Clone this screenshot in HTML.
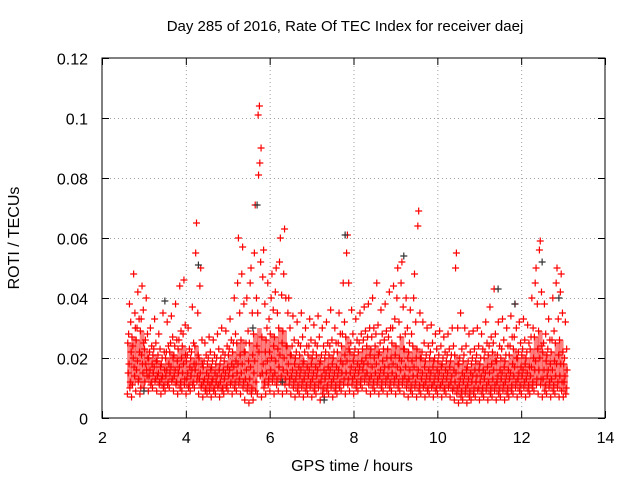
<!DOCTYPE html>
<html>
<head>
<meta charset="utf-8">
<style>
html,body{margin:0;padding:0;background:#fff;}
svg{display:block;font-family:"Liberation Sans","DejaVu Sans",sans-serif;}
</style>
</head>
<body>
<svg id="chart" width="640" height="480" viewBox="0 0 640 480">
  <rect x="0" y="0" width="640" height="480" fill="#fff"/>
  <g id="grid"></g>
  <g id="bands"></g>
  <g id="points"></g>
  <rect x="102" y="58" width="503" height="360" fill="none" stroke="#000" stroke-width="1"/>
  <g id="ticks"></g>
  <text x="345" y="31" font-size="15" text-anchor="middle">Day 285 of 2016, Rate Of TEC Index for receiver daej</text>
  <text x="352" y="471" font-size="16" text-anchor="middle">GPS time / hours</text>
  <text transform="translate(19,238) rotate(-90)" font-size="16" text-anchor="middle">ROTI / TECUs</text>
</svg>
<script>
const xTicks = [2,4,6,8,10,12,14];
const yTicks = [0,0.02,0.04,0.06,0.08,0.1,0.12];
const yTickLabels = ["0","0.02","0.04","0.06","0.08","0.1","0.12"];
const binTimes = [2.65,2.75,2.85,2.95,3.05,3.15,3.25,3.35,3.45,3.55,3.65,3.75,3.85,3.95,4.05,4.15,4.25,4.35,4.45,4.55,4.65,4.75,4.85,4.95,5.05,5.15,5.25,5.35,5.45,5.55,5.65,5.75,5.85,5.95,6.05,6.15,6.25,6.35,6.45,6.55,6.65,6.75,6.85,6.95,7.05,7.15,7.25,7.35,7.45,7.55,7.65,7.75,7.85,7.95,8.05,8.15,8.25,8.35,8.45,8.55,8.65,8.75,8.85,8.95,9.05,9.15,9.25,9.35,9.45,9.55,9.65,9.75,9.85,9.95,10.05,10.15,10.25,10.35,10.45,10.55,10.65,10.75,10.85,10.95,11.05,11.15,11.25,11.35,11.45,11.55,11.65,11.75,11.85,11.95,12.05,12.15,12.25,12.35,12.45,12.55,12.65,12.75,12.85,12.95,13.05];
// ROTI values in thousandths of TECU/s per time bin
const binRoti = [
[8,12,18,25,32,38,15,22,10,28],[7,14,20,27,35,48,11,30,17,24],[9,13,19,26,33,42,16,22,12,30],[8,15,21,29,36,44,10,25,18,33],
[10,14,18,23,28,40,12,20,16,26],[9,12,16,20,24,30,14,18,11,22],[10,13,17,21,25,33,15,19,12,23],[9,12,15,19,23,28,14,17,11,21],
[8,11,14,18,22,35,13,16,10,20],[9,12,16,20,24,32,14,18,11,22],[10,13,17,22,27,34,15,20,12,25],[9,12,16,21,26,38,14,19,11,24],
[8,12,17,23,29,44,15,20,10,26],[9,13,18,24,31,46,15,21,11,28],[8,11,15,19,23,30,13,17,10,21],[9,12,16,20,25,37,14,18,11,22],
[10,14,18,24,35,65,16,21,12,55],[8,11,15,20,26,50,13,18,10,44],[7,10,13,17,21,25,12,15,9,19],[8,11,14,18,22,27,12,16,9,20],
[7,10,13,17,21,26,12,15,9,19],[8,11,14,18,23,28,12,16,10,20],[7,10,14,18,22,30,12,16,9,20],[8,11,15,19,24,29,13,17,10,21],
[9,12,16,21,26,33,14,18,11,23],[8,12,17,22,28,40,14,19,10,25],[9,13,18,25,35,60,15,21,11,45],[8,12,18,26,38,57,15,22,10,48],
[6,11,16,22,29,40,13,19,9,25],[5,10,17,25,35,50,13,21,8,45],[6,12,19,28,40,71,15,24,9,55],[8,14,22,35,52,104,101,90,85,81],
[7,12,18,27,38,56,15,22,10,47],[8,13,19,26,33,45,15,22,11,30],[9,14,20,28,36,48,16,24,12,40],[8,13,19,27,35,50,15,23,11,42],
[9,14,21,30,41,60,17,25,12,52],[8,13,20,29,40,63,16,24,11,48],[9,13,18,24,30,40,15,21,11,35],[8,12,16,21,26,34,14,18,10,24],
[7,11,15,20,25,32,13,17,9,22],[8,12,16,21,27,35,14,18,10,24],[7,11,15,19,24,30,13,17,9,22],[8,12,16,21,26,33,14,18,10,24],
[7,11,15,20,25,31,13,17,9,22],[8,12,16,21,27,34,14,18,10,24],[6,10,14,19,24,30,12,16,8,21],[7,11,15,20,25,32,13,17,9,22],
[8,12,16,21,26,36,14,18,10,24],[7,11,15,20,25,30,13,17,9,22],[8,12,16,22,28,35,14,19,10,25],[9,13,18,24,32,45,15,21,11,28],
[8,13,19,27,45,61,15,23,11,55],[9,13,17,22,28,36,15,19,11,25],[8,12,16,21,26,33,14,18,10,23],[9,13,17,22,28,35,15,19,11,25],
[10,14,18,23,29,37,16,20,12,26],[9,13,18,24,30,38,15,21,11,27],[8,12,17,23,30,40,14,20,10,27],[9,13,18,24,31,45,15,21,11,28],
[8,12,16,22,28,36,14,19,10,25],[9,13,17,23,29,38,15,20,11,26],[8,12,17,23,30,42,14,20,10,27],[9,13,18,25,33,44,15,21,11,30],
[8,12,17,24,32,50,14,20,10,40],[9,13,19,27,37,52,16,23,11,45],[8,12,17,23,30,40,14,20,10,28],[7,11,16,22,28,36,13,19,9,25],
[8,12,17,24,32,48,14,20,10,40],[7,11,16,23,35,69,14,20,9,64],[8,11,15,20,25,32,13,17,10,22],[7,10,14,19,24,30,12,16,9,21],
[8,11,15,20,25,31,13,17,10,22],[7,10,14,19,23,28,12,16,9,20],[8,11,15,19,24,29,13,17,10,21],[7,10,14,18,22,27,12,16,9,20],
[8,11,15,19,23,28,13,17,10,21],[7,10,14,19,24,30,12,16,9,21],[6,10,15,21,30,55,12,18,8,50],[5,9,13,18,23,35,11,15,7,20],
[6,10,14,19,24,30,12,16,8,21],[5,9,13,17,22,28,11,15,7,19],[6,10,14,18,23,29,12,16,8,20],[7,10,14,19,24,30,12,16,9,21],
[6,10,14,18,23,28,12,16,8,20],[7,11,15,20,25,32,13,17,9,22],[6,10,15,21,27,37,12,18,8,24],[7,11,16,22,28,43,13,19,9,25],
[6,10,14,19,24,32,12,16,8,21],[7,11,15,20,26,33,13,17,9,23],[6,10,14,19,24,30,12,16,8,21],[7,11,15,21,27,34,13,18,9,24],
[8,12,17,23,30,38,14,20,10,27],[7,11,15,20,25,32,13,17,9,22],[8,12,16,21,26,33,14,18,10,23],[7,11,15,20,25,31,13,17,9,22],
[8,12,17,23,30,40,14,20,10,27],[9,13,19,27,38,50,16,23,11,45],[8,13,20,29,42,59,16,24,11,56],[7,11,16,22,28,38,13,19,9,25],
[8,12,16,21,26,33,14,18,10,23],[7,11,16,22,29,40,13,19,9,26],[8,12,18,25,33,50,14,21,10,45],[7,12,18,26,35,48,14,22,9,42],
[7,10,14,18,23,32,12,16,8,20]
];
const greyTimes = [3.0,3.5,4.3,5.6,5.7,6.3,7.3,7.8,9.2,11.45,11.85,12.5,12.9];
const greyRoti = [0.009,0.039,0.051,0.03,0.071,0.012,0.006,0.061,0.054,0.043,0.038,0.052,0.04];

const NS = "http://www.w3.org/2000/svg";
const X0=102, X1=605, Y0=418, Y1=58;
const xScale = t => X0 + (t-2)/(14-2)*(X1-X0);
const yScale = v => Y0 - v/0.12*(Y0-Y1);
function mk(tag, attrs, parent){
  const e=document.createElementNS(NS,tag);
  for(const k in attrs) e.setAttribute(k,attrs[k]);
  parent.appendChild(e); return e;
}
const grid=document.getElementById('grid'), ticks=document.getElementById('ticks'), pts=document.getElementById('points'), bands=document.getElementById('bands');
xTicks.forEach((t,i)=>{
  const x=xScale(t)+0.5;
  if(i>0&&i<xTicks.length-1){
    const g=mk('line',{x1:x,x2:x,y1:Y1,y2:Y0,stroke:'#a0a0a0','stroke-dasharray':'1,3'},grid);
    
    
  }
  mk('line',{x1:x,x2:x,y1:Y0,y2:Y0-7,stroke:'#000'},ticks);
  mk('line',{x1:x,x2:x,y1:Y1,y2:Y1+7,stroke:'#000'},ticks);
  const l=mk('text',{x:x,y:443,'font-size':16,'text-anchor':'middle'},ticks);
  l.textContent=String(t);
  
  
});
yTicks.forEach((v,i)=>{
  const y=yScale(v)+0.5;
  if(i>0&&i<yTicks.length-1){
    const g=mk('line',{x1:X0,x2:X1,y1:y,y2:y,stroke:'#a0a0a0','stroke-dasharray':'1,3'},grid);
    
    
  }
  mk('line',{x1:X0,x2:X0+7,y1:y,y2:y,stroke:'#000'},ticks);
  mk('line',{x1:X1,x2:X1-7,y1:y,y2:y,stroke:'#000'},ticks);
  const l=mk('text',{x:88,y:y+6,'font-size':16,'text-anchor':'end'},ticks);
  l.textContent=yTickLabels[i];
  
  
});
function plus(x,y,color,name){
  const p=mk('path',{d:`M${x-3.5},${y}h7M${x},${y-3.5}v7`,stroke:color,'stroke-width':1.2,fill:'none'},pts);
  
  
}
binTimes.forEach((t,i)=>{
  const s=binRoti[i].slice().sort((a,b)=>a-b);
  const lo=s[1]/1000, hi=Math.min(s[6],30)/1000;
  const b=mk('rect',{x:xScale(t-0.05),y:yScale(hi),width:xScale(0.1)-xScale(0)+0.5,height:yScale(lo)-yScale(hi),fill:'#ff0000','fill-opacity':0.5},bands);
  
  
  binRoti[i].forEach((v,j)=>{
    const x=xScale(t)+((j*7)%10-4.5)*0.42;
    plus(x,yScale(v/1000),'#ff0000','roti-point');
  });
});
greyTimes.forEach((t,i)=>{
  plus(xScale(t),yScale(greyRoti[i]),'#333','roti-point-grey');
});
</script>
</body>
</html>
